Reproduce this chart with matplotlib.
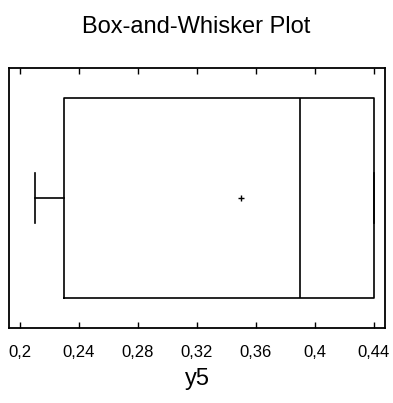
import matplotlib
matplotlib.use("Agg")
import matplotlib.pyplot as plt
from matplotlib.ticker import FuncFormatter

plt.rcParams['font.family'] = ['Liberation Sans Narrow', 'Liberation Sans', 'DejaVu Sans']

# summary statistics of y5
var_name = "y5"
y_min = 0.21
q1 = 0.23
median = 0.39
q3 = 0.44
y_max = 0.44
mean = 0.35
tick_values = [0.20, 0.24, 0.28, 0.32, 0.36, 0.40, 0.44]

stats = [dict(whislo=y_min, q1=q1, med=median, q3=q3, whishi=y_max,
              mean=mean, fliers=[], label=var_name)]

fig = plt.figure(figsize=(3.93, 4.03), dpi=100)
ax = fig.add_axes([9 / 393, 75 / 403, 376 / 393, 260 / 403])

line = dict(color='black', linewidth=1.2)
ax.bxp(stats, positions=[0.5], widths=0.77, capwidths=0.19, vert=False,
       showmeans=True, showfliers=False,
       boxprops=line, whiskerprops=line, capprops=line, medianprops=line,
       meanprops=dict(marker='+', markeredgecolor='black', markersize=5,
                      markeredgewidth=1.0))

ax.set_ylim(0, 1)
ax.set_xlim(0.1925, 0.4475)
ax.set_yticks([])
ax.set_xticks(tick_values)
ax.xaxis.set_major_formatter(FuncFormatter(lambda v, p: f"{v:.2f}".rstrip('0').replace('.', ',')))
ax.tick_params(axis='x', direction='in', length=4, width=1, top=True,
               labelsize=12, pad=12)
for s in ax.spines.values():
    s.set_linewidth(1.3)

ax.set_xlabel(var_name, fontsize=17, labelpad=6)
fig.text(0.5, 1 - 27 / 403, "Box-and-Whisker Plot", ha='center', va='center', fontsize=17)

fig.savefig("out.png", dpi=100)
